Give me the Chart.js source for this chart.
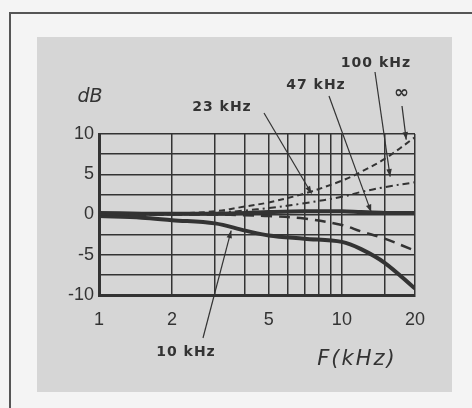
<!DOCTYPE html>
<html>
<head>
<meta charset="utf-8">
<script src="https://cdn.jsdelivr.net/npm/chart.js@4/dist/chart.umd.min.js"></script>
<style>
  html, body { margin: 0; padding: 0; background: #f4f4f4; }
  canvas { display: block; }
</style>
</head>
<body>
<canvas id="chart" width="472" height="408"></canvas>
<script>
// frequency points (kHz) and response of each curve (dB)
const freqs     = [1, 1.5, 2, 3, 4, 5, 7, 10, 12, 15, 20];
const resInf    = [0, 0, 0.1, 0.4, 1.0, 1.5, 2.6, 4.2, 5.3, 6.9, 9.6];
const res100k   = [0, 0, 0, 0.2, 0.5, 0.8, 1.4, 2.2, 2.8, 3.4, 4.0];
const res47k    = [0.2, 0.1, 0.1, 0.1, 0.2, 0.3, 0.4, 0.4, 0.3, 0.2, 0.2];
const res23k    = [0, 0, 0, 0, -0.1, -0.2, -0.5, -1.3, -2.1, -3.0, -4.5];
const res10k    = [-0.2, -0.4, -0.7, -1.1, -2.0, -2.6, -3.0, -3.4, -4.3, -6.0, -9.2];

const xGrid     = [1, 2, 3, 4, 5, 6, 7, 8, 9, 10, 15, 20];
const xLabels   = [1, 2, 5, 10, 20];
const yGrid     = [-10, -7.5, -5, -2.5, 0, 2.5, 5, 7.5, 10];
const yLabels   = [-10, -5, 0, 5, 10];

// curve labels: text and arrow tip (kHz, dB)
const curveNames = ['10 kHz', '23 kHz', '47 kHz', '100 kHz', '\u221E'];
const tipFreqs   = [3.5, 7.5, 13.2, 15.8, 18.4];
const tipDb      = [-2.0, 2.6, 0.3, 4.7, 9.3];

const ink = '#333';

const toPts = arr => arr.map((v, i) => ({ x: freqs[i], y: v }));

const pagePlugin = {
  id: 'page',
  beforeDraw(chart) {
    const c = chart.ctx;
    c.save();
    c.fillStyle = '#f4f4f4';
    c.fillRect(0, 0, chart.width, chart.height);
    c.strokeStyle = '#555';
    c.lineWidth = 2;
    c.beginPath();
    c.moveTo(10, 420);
    c.lineTo(10, 13);
    c.lineTo(480, 13);
    c.stroke();
    c.fillStyle = '#d6d6d6';
    c.fillRect(37, 37, 415, 355);
    c.restore();
  },
  afterDraw(chart) {
    const c = chart.ctx;
    const xs = chart.scales.x, ys = chart.scales.y;
    c.save();
    c.fillStyle = ink;
    c.strokeStyle = ink;
    c.textAlign = 'center';
    c.textBaseline = 'middle';

    c.font = 'italic 19px "DejaVu Sans"';
    c.fillText('dB', 90, 97);
    c.font = 'italic 21px "DejaVu Sans"';
    c.letterSpacing = '2px';
    c.fillText('F(kHz)', 357, 360);

    const labelPos = [[186, 352], [222, 107], [316, 85], [376, 63], [402, 93]];
    const lineStart = [[203, 338], [264, 113], [329, 96], [375, 72], [402, 106]];
    c.font = 'bold 14px "DejaVu Sans"';
    c.letterSpacing = '1px';
    curveNames.forEach((name, i) => {
      const tx = xs.getPixelForValue(tipFreqs[i]);
      const ty = ys.getPixelForValue(tipDb[i]);
      const [sx, sy] = lineStart[i];
      c.lineWidth = 1.2;
      c.beginPath();
      c.moveTo(sx, sy);
      c.lineTo(tx, ty);
      c.stroke();
      // small arrow head
      const a = Math.atan2(ty - sy, tx - sx);
      c.beginPath();
      c.moveTo(tx, ty);
      c.lineTo(tx - 8 * Math.cos(a - 0.35), ty - 8 * Math.sin(a - 0.35));
      c.lineTo(tx - 8 * Math.cos(a + 0.35), ty - 8 * Math.sin(a + 0.35));
      c.closePath();
      c.fill();
      if (i === 4) {
        c.font = 'bold 18px "DejaVu Sans"';
      }
      c.fillText(name, labelPos[i][0], labelPos[i][1]);
    });
    c.restore();
  }
};

new Chart(document.getElementById('chart').getContext('2d'), {
  type: 'line',
  data: {
    datasets: [
      { label: '\u221E', data: toPts(resInf), borderDash: [6, 4], borderWidth: 2 },
      { label: '100 kHz', data: toPts(res100k), borderDash: [7, 4, 2, 4], borderWidth: 2 },
      { label: '47 kHz', data: toPts(res47k), borderWidth: 4 },
      { label: '23 kHz', data: toPts(res23k), borderDash: [11, 7], borderWidth: 2.5 },
      { label: '10 kHz', data: toPts(res10k), borderWidth: 4 }
    ].map(d => Object.assign({ borderColor: ink, pointRadius: 0, tension: 0.35, fill: false }, d))
  },
  options: {
    responsive: false,
    animation: false,
    events: [],
    layout: { padding: { left: 53, right: 57, top: 134, bottom: 73 } },
    plugins: { legend: { display: false }, tooltip: { enabled: false } },
    scales: {
      x: {
        type: 'logarithmic',
        min: 1,
        max: 20,
        afterBuildTicks: axis => { axis.ticks = xGrid.map(v => ({ value: v })); },
        afterFit: scale => { scale.height = 40; },
        grid: { color: ink, lineWidth: 1.5, drawTicks: false },
        border: { color: ink, width: 3 },
        ticks: {
          autoSkip: false,
          maxRotation: 0,
          padding: 14,
          color: '#333',
          font: { family: 'Liberation Sans', size: 18 },
          callback: v => xLabels.includes(v) ? String(v) : ''
        }
      },
      y: {
        min: -10,
        max: 10,
        afterBuildTicks: axis => { axis.ticks = yGrid.map(v => ({ value: v })); },
        afterFit: scale => { scale.width = 46; },
        grid: { color: ink, lineWidth: 1.5, drawTicks: false },
        border: { color: ink, width: 3 },
        ticks: {
          autoSkip: false,
          padding: 5,
          color: '#333',
          font: { family: 'Liberation Sans', size: 18 },
          callback: v => yLabels.includes(v) ? String(v) : ''
        }
      }
    }
  },
  plugins: [pagePlugin]
});
</script>
</body>
</html>
